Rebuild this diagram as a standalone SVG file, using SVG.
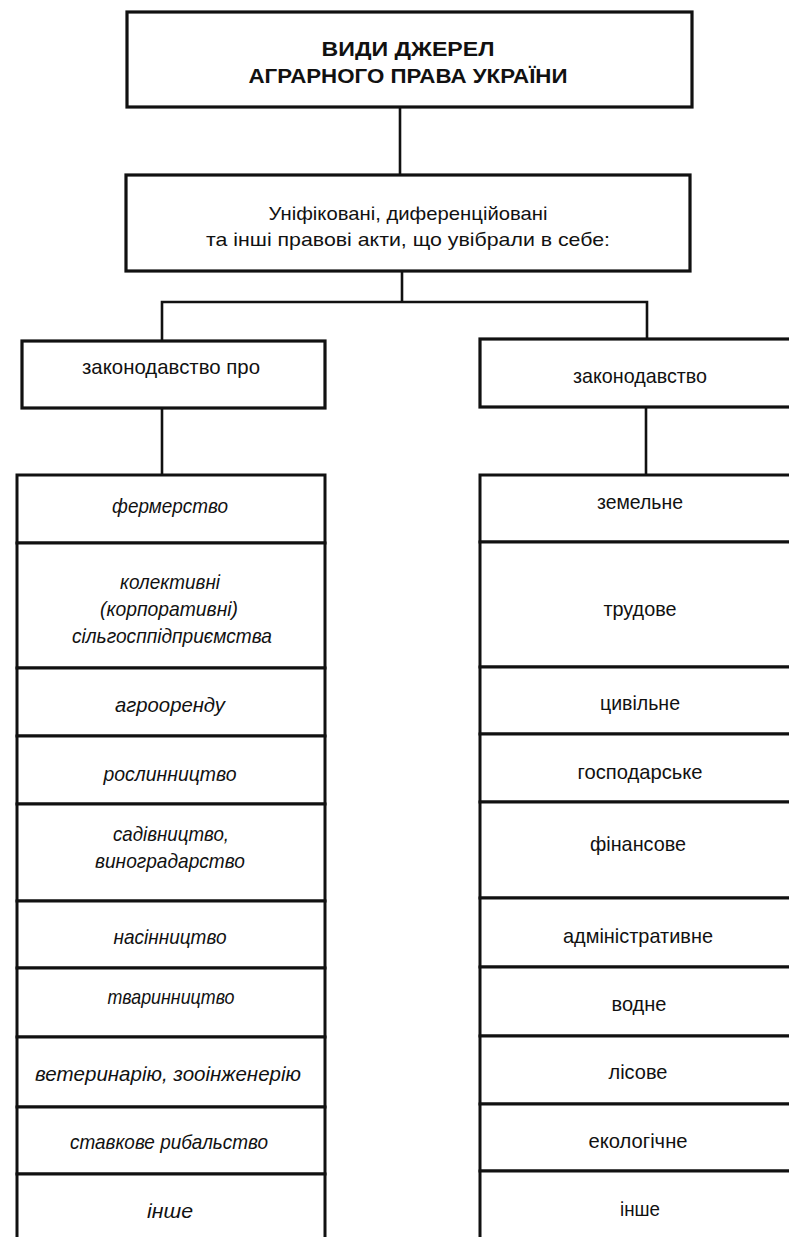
<svg xmlns="http://www.w3.org/2000/svg" width="789" height="1237" viewBox="0 0 789 1237">
<style>
.box{fill:#fff;stroke:#111;stroke-width:3.2}
.cell{fill:#fff;stroke:#111;stroke-width:3}
.con{fill:none;stroke:#111;stroke-width:2.6}
text{font-family:"Liberation Sans",Arial,sans-serif;fill:#111;text-anchor:middle}
.title{font-size:20px;font-weight:bold}
.s{font-size:19px}
.t{font-size:21px}
.it{font-size:21px;font-style:italic}
</style>
<rect width="789" height="1237" fill="#fff"/>
<g id="connectors">
<path class="con" d="M400 107V175"/>
<path class="con" d="M402 271V302"/>
<path class="con" d="M162 341V302H647V339"/>
<path class="con" d="M162 408V475"/>
<path class="con" d="M646 407V475"/>
</g>
<g id="root">
<rect class="box" x="127" y="12" width="565" height="95"/>
<text class="title" x="408" y="56" textLength="173" lengthAdjust="spacingAndGlyphs">ВИДИ ДЖЕРЕЛ</text>
<text class="title" x="408" y="83" textLength="319" lengthAdjust="spacingAndGlyphs">АГРАРНОГО ПРАВА УКРАЇНИ</text>
</g>
<g id="acts">
<rect class="box" x="126" y="175" width="564" height="96"/>
<text class="s" x="408" y="220" textLength="279" lengthAdjust="spacingAndGlyphs">Уніфіковані, диференційовані</text>
<text class="s" x="408" y="246" textLength="404" lengthAdjust="spacingAndGlyphs">та інші правові акти, що увібрали в себе:</text>
</g>
<g id="law-about">
<rect class="box" x="22" y="341" width="303" height="67"/>
<text class="t" x="171" y="374" textLength="178" lengthAdjust="spacingAndGlyphs">законодавство про</text>
</g>
<g id="law">
<rect class="box" x="480" y="339" width="330" height="68"/>
<text class="t" x="640" y="383" textLength="134" lengthAdjust="spacingAndGlyphs">законодавство</text>
</g>
<g id="left-column">
<g id="l1"><rect class="cell" x="17" y="475" width="308" height="68"/><text class="it" x="170" y="513" textLength="116" lengthAdjust="spacingAndGlyphs">фермерство</text></g>
<g id="l2"><rect class="cell" x="17" y="543" width="308" height="125"/><text class="it" x="170" y="589" textLength="100" lengthAdjust="spacingAndGlyphs">колективні</text><text class="it" x="169" y="616" textLength="138" lengthAdjust="spacingAndGlyphs">(корпоративні)</text><text class="it" x="172" y="643" textLength="200" lengthAdjust="spacingAndGlyphs">сільгосппідприємства</text></g>
<g id="l3"><rect class="cell" x="17" y="668" width="308" height="68"/><text class="it" x="170" y="712" textLength="110" lengthAdjust="spacingAndGlyphs">агрооренду</text></g>
<g id="l4"><rect class="cell" x="17" y="736" width="308" height="68"/><text class="it" x="170" y="781" textLength="133" lengthAdjust="spacingAndGlyphs">рослинництво</text></g>
<g id="l5"><rect class="cell" x="17" y="804" width="308" height="97"/><text class="it" x="171" y="841" textLength="116" lengthAdjust="spacingAndGlyphs">садівництво,</text><text class="it" x="170" y="868" textLength="150" lengthAdjust="spacingAndGlyphs">виноградарство</text></g>
<g id="l6"><rect class="cell" x="17" y="901" width="308" height="67"/><text class="it" x="170" y="944" textLength="113" lengthAdjust="spacingAndGlyphs">насінництво</text></g>
<g id="l7"><rect class="cell" x="17" y="968" width="308" height="69"/><text class="it" x="171" y="1004" textLength="127" lengthAdjust="spacingAndGlyphs">тваринництво</text></g>
<g id="l8"><rect class="cell" x="17" y="1037" width="308" height="70"/><text class="it" x="168" y="1081" textLength="266" lengthAdjust="spacingAndGlyphs">ветеринарію, зооінженерію</text></g>
<g id="l9"><rect class="cell" x="17" y="1107" width="308" height="67"/><text class="it" x="169" y="1149" textLength="198" lengthAdjust="spacingAndGlyphs">ставкове рибальство</text></g>
<g id="l10"><rect class="cell" x="17" y="1174" width="308" height="80"/><text class="it" x="170" y="1218" textLength="46" lengthAdjust="spacingAndGlyphs">інше</text></g>
</g>
<g id="right-column">
<g id="r1"><rect class="cell" x="480" y="475" width="330" height="67"/><text class="t" x="640" y="509" textLength="86" lengthAdjust="spacingAndGlyphs">земельне</text></g>
<g id="r2"><rect class="cell" x="480" y="542" width="330" height="125"/><text class="t" x="640" y="616" textLength="73" lengthAdjust="spacingAndGlyphs">трудове</text></g>
<g id="r3"><rect class="cell" x="480" y="667" width="330" height="67"/><text class="t" x="640" y="710" textLength="80" lengthAdjust="spacingAndGlyphs">цивільне</text></g>
<g id="r4"><rect class="cell" x="480" y="734" width="330" height="68"/><text class="t" x="640" y="779" textLength="125" lengthAdjust="spacingAndGlyphs">господарське</text></g>
<g id="r5"><rect class="cell" x="480" y="802" width="330" height="96"/><text class="t" x="638" y="851" textLength="96" lengthAdjust="spacingAndGlyphs">фінансове</text></g>
<g id="r6"><rect class="cell" x="480" y="898" width="330" height="69"/><text class="t" x="638" y="943" textLength="150" lengthAdjust="spacingAndGlyphs">адміністративне</text></g>
<g id="r7"><rect class="cell" x="480" y="967" width="330" height="69"/><text class="t" x="639" y="1011" textLength="55" lengthAdjust="spacingAndGlyphs">водне</text></g>
<g id="r8"><rect class="cell" x="480" y="1036" width="330" height="68"/><text class="t" x="638" y="1079" textLength="59" lengthAdjust="spacingAndGlyphs">лісове</text></g>
<g id="r9"><rect class="cell" x="480" y="1104" width="330" height="67"/><text class="t" x="638" y="1148" textLength="99" lengthAdjust="spacingAndGlyphs">екологічне</text></g>
<g id="r10"><rect class="cell" x="480" y="1171" width="330" height="80"/><text class="t" x="640" y="1216" textLength="40" lengthAdjust="spacingAndGlyphs">інше</text></g>
</g>
</svg>
